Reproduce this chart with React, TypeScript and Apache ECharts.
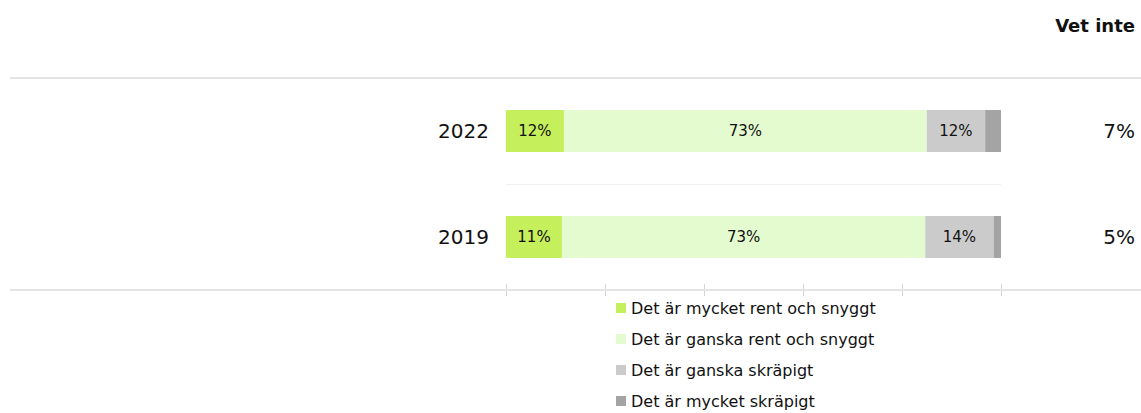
import React, { useEffect, useRef } from "react";
import * as echarts from "echarts";

const categories = ["2022", "2019"];
const seriesNames = [
  "Det är mycket rent och snyggt",
  "Det är ganska rent och snyggt",
  "Det är ganska skräpigt",
  "Det är mycket skräpigt",
];
const veryClean = [11.7, 11.3];
const fairlyClean = [73.3, 73.4];
const fairlyLittered = [11.8, 13.8];
const veryLittered = [3.2, 1.5];
const dontKnow = [7, 5];
const xTickStep = 20;

const colors = ["#c5ef5b", "#e4fbcf", "#cbcbcb", "#a4a4a4"];
const FONT = "'DejaVu Sans', 'Noto Sans', sans-serif";

export default function App() {
  const ref = useRef<HTMLDivElement>(null);
  useEffect(() => {
    if (!ref.current) return;
    const chart = echarts.init(ref.current, undefined, { renderer: "svg" });
    const values = [veryClean, fairlyClean, fairlyLittered, veryLittered];
    chart.setOption({
      animation: false,
      backgroundColor: "#ffffff",
      textStyle: { fontFamily: FONT },
      title: {
        text: "Vet inte",
        right: 6,
        top: 16,
        padding: 0,
        textStyle: { fontFamily: FONT, fontSize: 18, fontWeight: "bold", color: "#111" },
      },
      grid: { left: 506, right: 140, top: 78, bottom: 123 },
      xAxis: {
        type: "value",
        min: 0,
        max: 100,
        interval: xTickStep,
        offset: -6,
        axisLine: { show: false },
        axisLabel: { show: false },
        splitLine: { show: false },
        axisTick: { show: true, length: 12, lineStyle: { color: "#d4d4d4" } },
      },
      yAxis: [
        {
          type: "category",
          data: categories,
          inverse: true,
          axisLine: { show: false },
          axisTick: { show: false },
          splitLine: { show: true, lineStyle: { color: "#efefef", width: 1 } },
          axisLabel: { margin: 17, fontSize: 20, color: "#111", fontFamily: FONT },
        },
        {
          type: "category",
          data: dontKnow.map((v) => v + "%"),
          inverse: true,
          position: "right",
          axisLine: { show: false },
          axisTick: { show: false },
          splitLine: { show: false },
          axisLabel: { margin: 134, align: "right", fontSize: 20, color: "#111", fontFamily: FONT },
        },
      ],
      legend: {
        orient: "vertical",
        left: 616,
        top: 298,
        padding: 0,
        height: 115,
        itemWidth: 10,
        itemHeight: 10,
        itemGap: 11,
        icon: "rect",
        selectedMode: false,
        textStyle: { fontSize: 16, lineHeight: 20, color: "#111", fontFamily: FONT },
        data: seriesNames,
      },
      graphic: [
        { type: "line", shape: { x1: 10, y1: 78, x2: 1141, y2: 78 }, style: { stroke: "#e4e4e4", lineWidth: 2 }, z: 10 },
        { type: "line", shape: { x1: 10, y1: 290, x2: 1141, y2: 290 }, style: { stroke: "#e4e4e4", lineWidth: 2 }, z: 10 },
      ],
      series: seriesNames.map((name, i) => ({
        name,
        type: "bar",
        stack: "total",
        barWidth: 42,
        data: values[i],
        itemStyle: { color: colors[i] },
        label: {
          show: true,
          position: "inside",
          fontSize: 15,
          color: "#111",
          fontFamily: FONT,
          formatter: (p: any) => (p.value >= 5 ? Math.round(p.value) + "%" : ""),
        },
      })),
    });
    return () => chart.dispose();
  }, []);
  return (
    <div
      ref={ref}
      style={{ position: "fixed", left: 0, top: 0, width: 1141, height: 413 }}
    />
  );
}
